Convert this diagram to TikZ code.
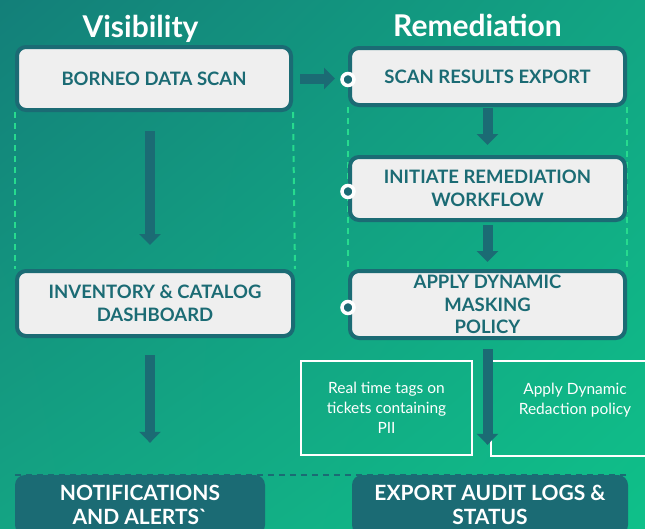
\documentclass[tikz,border=0pt]{standalone}
\usepackage{fontspec}
\setmainfont{Lato}
\usepackage{tikz}
\usetikzlibrary{arrows.meta,positioning,backgrounds,shadings}
\definecolor{deepteal}{HTML}{1B6B74}
\definecolor{boxgray}{HTML}{EFEFEF}
\definecolor{dashgreen}{HTML}{27DB8E}
\definecolor{bgul}{HTML}{137F79}
\definecolor{bgur}{HTML}{12A583}
\definecolor{bgll}{HTML}{14A483}
\definecolor{bglr}{HTML}{0FC089}

\begin{document}
\begin{tikzpicture}[x=1pt,y=-1pt,% one unit = one pixel of the reference, y going down
					every node/.style={
						align=center,		% use this so that the "\\" for line break works
						inner sep=0pt
						},
					box/.style={rectangle,rounded corners=9pt,line width=4pt,draw=deepteal,fill=boxgray,text=deepteal,font=\bfseries\fontsize{18.5}{22.5}\selectfont},
					endbox/.style={rectangle,rounded corners=10pt,fill=deepteal,text=white,font=\bfseries\fontsize{21}{24}\selectfont},
					note/.style={rectangle,draw=white,line width=1.5pt,text=white,font=\fontsize{15.5}{20}\selectfont},
					title/.style={text=white,font=\bfseries\fontsize{30}{30}\selectfont,anchor=base},
					port/.style={circle,draw=white,line width=3.5pt,fill=deepteal,minimum size=12pt},
					guide/.style={line width=2pt,dash pattern=on 6pt off 5pt},
					every edge/.style={draw=deepteal,line width=10pt,-{Triangle[width=21pt,length=11pt]}}
					]
\useasboundingbox (0,0) rectangle (645,528);
\clip (0,0) rectangle (645,528);
% column titles
\node[title](TV) at (140.5,37){Visibility};
\node[title](TR) at (477.5,36){Remediation};
% visibility column
\node[box,minimum width=274pt,minimum height=63pt](V1) at (154,78.5){BORNEO DATA SCAN};
\node[box,minimum width=276pt,minimum height=65pt](V2) at (155,303.5){INVENTORY \& CATALOG\\DASHBOARD};
\node[endbox,minimum width=250pt,minimum height=60pt](V3) at (140,505){NOTIFICATIONS\\AND ALERTS\textasciigrave};
% remediation column
\node[box,minimum width=275pt,minimum height=57pt](R1) at (487.5,76.5){SCAN RESULTS EXPORT};
\node[box,minimum width=275pt,minimum height=63pt](R2) at (487.5,188.5){INITIATE REMEDIATION\\WORKFLOW};
\node[box,minimum width=275pt,minimum height=67pt](R3) at (487.5,304.5){APPLY DYNAMIC\\MASKING\\POLICY};
\node[endbox,minimum width=276pt,minimum height=60pt](R4) at (490,505){EXPORT AUDIT LOGS \&\\STATUS};
% side notes
\node[note,minimum width=171pt,minimum height=94pt](N1) at (386.5,408){Real time tags on\\tickets containing\\PII};
\node[note,minimum width=168pt,minimum height=95pt](N2) at (575,408.5){Apply Dynamic\\Redaction policy\\\mbox{}};
% ports on the left edge of the remediation steps
\node[port](P1) at ([yshift=-3pt]R1.west){};
\node[port](P2) at ([yshift=-3pt]R2.west){};
\node[port](P3) at ([yshift=-3pt]R3.west){};
\path
(V1.east)edge [shorten <=7pt,shorten >=13pt] (V1.east -| R1.west)
([xshift=-4pt]V1.south)edge [shorten <=19pt,shorten >=24pt] ([xshift=-4pt]V1.south |- V2.north)
([xshift=-5pt]V2.south)edge [shorten <=17pt,shorten >=32pt] ([xshift=-5pt]V2.south |- V3.north)
(R1.south)edge [shorten <=1pt,shorten >=10pt] (R1.south |- R2.north)
(R2.south)edge [shorten <=3pt,shorten >=7pt] (R2.south |- R3.north)
(R3.south)edge [shorten <=9pt,shorten >=30pt] (R3.south |- R4.north)
;
\draw[guide,draw=deepteal] (V3.north west) -- (R4.north east);
\begin{scope}[on background layer]
\shade[upper left=bgul,upper right=bgur,lower left=bgll,lower right=bglr] (0,0) rectangle (645,528);
\draw[guide,draw=dashgreen] (V1.south west) -- (V2.north west);
\draw[guide,draw=dashgreen] (V1.south east) -- (V2.north east);
\draw[guide,draw=dashgreen] (R1.south west) -- (R3.north west);
\draw[guide,draw=dashgreen] (R1.south east) -- (R3.north east);
\end{scope}
\end{tikzpicture}
\end{document}
